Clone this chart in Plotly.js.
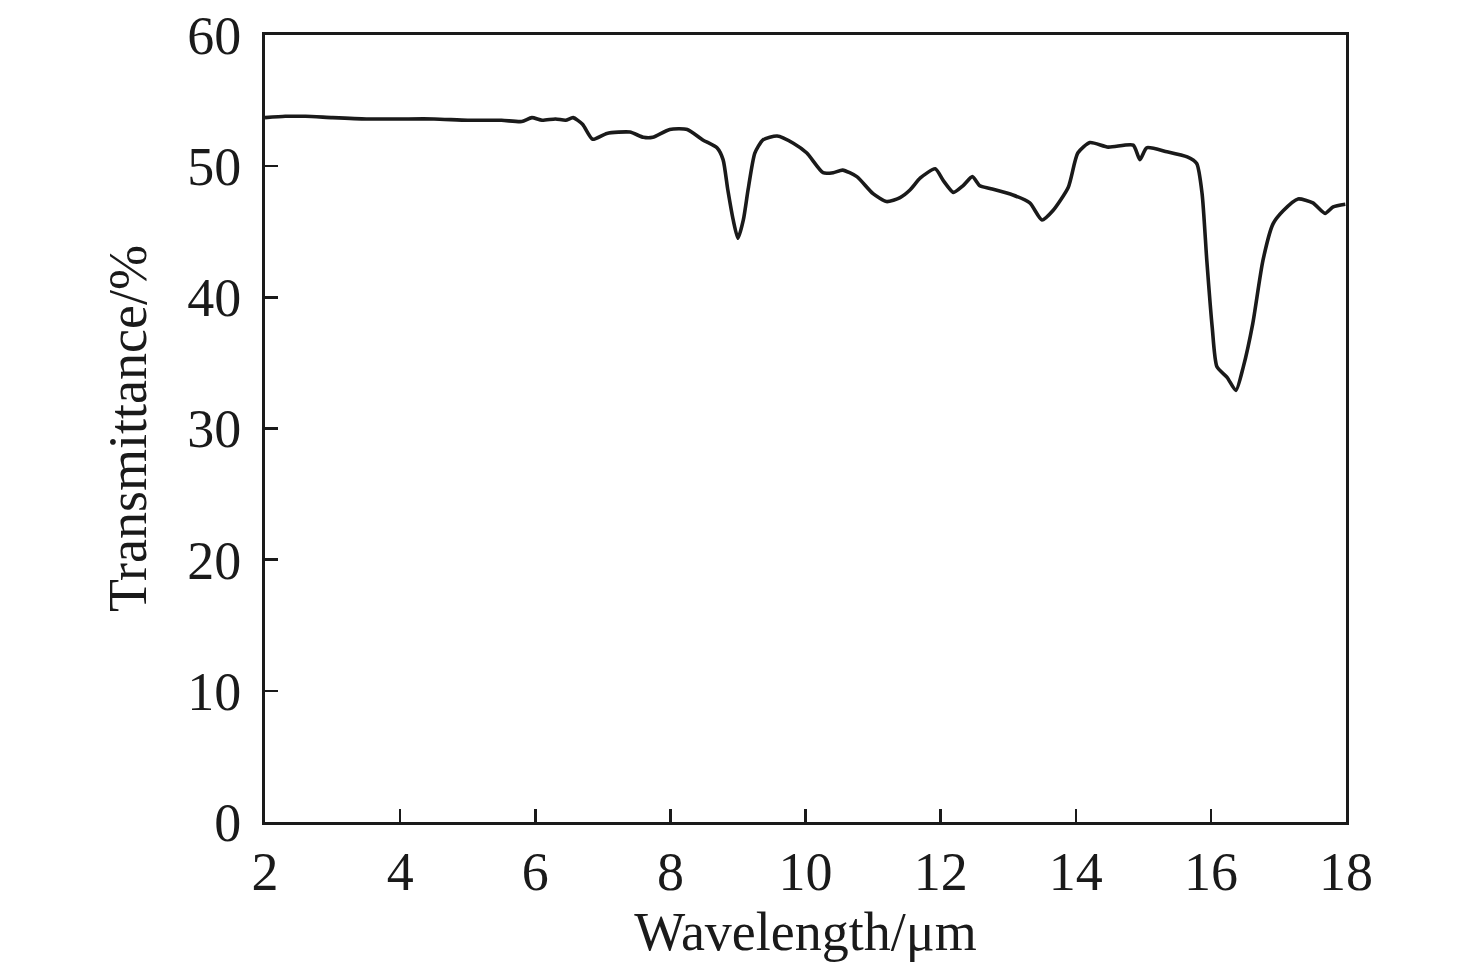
<!DOCTYPE html>
<html>
<head>
<meta charset="utf-8">
<script src="https://cdn.plot.ly/plotly-3.0.1.min.js"></script>
<style>
  body { margin: 0; background: #fff; }
  #chart { width: 1476px; height: 972px; }
</style>
</head>
<body>
<div id="chart"></div>
<script>
// Spectrum
var wavelength = [
    2.0, 2.3, 2.6, 3.0, 3.5, 4.0, 4.5, 5.0, 5.5, 5.8, 5.95, 6.1, 6.3, 6.45, 6.56, 6.7,
    6.85, 7.06, 7.4, 7.6, 7.74, 7.99, 8.25, 8.48, 8.69, 8.78, 8.85, 8.93, 9.0, 9.08,
    9.15, 9.25, 9.37, 9.58, 9.82, 10.02, 10.26, 10.41, 10.55, 10.76, 11.0, 11.2, 11.4,
    11.55, 11.7, 11.92, 12.04, 12.19, 12.33, 12.47, 12.58, 12.73, 13.07, 13.32, 13.5,
    13.66, 13.89, 14.03, 14.21, 14.48, 14.85, 14.95, 15.05, 15.35, 15.65, 15.79, 15.87,
    15.94, 16.02, 16.09, 16.24, 16.37, 16.48, 16.62, 16.77, 16.92, 17.07, 17.29, 17.51,
    17.69, 17.81, 17.99
];
var transmittance = [
    53.7, 53.8, 53.8, 53.7, 53.6, 53.6, 53.6, 53.5, 53.5, 53.4, 53.7, 53.5, 53.6, 53.5, 53.7, 53.2,
    52.05, 52.5, 52.6, 52.2, 52.2, 52.8, 52.8, 52.0, 51.4, 50.5, 48.2, 45.9, 44.5, 45.9,
    48.2, 51.0, 52.0, 52.3, 51.75, 51.0, 49.5, 49.5, 49.7, 49.2, 47.9, 47.3, 47.6,
    48.2, 49.1, 49.8, 48.9, 48.0, 48.5, 49.2, 48.5, 48.3, 47.8, 47.2, 45.9,
    46.6, 48.4, 51.0, 51.8, 51.45, 51.6, 50.5, 51.4, 51.1, 50.7, 50.2, 47.9,
    42.8, 37.7, 34.7, 33.9, 32.9, 34.7, 38.0, 42.8, 45.6, 46.6, 47.5, 47.2,
    46.4, 46.9, 47.1
];
var xTicks = [2, 4, 6, 8, 10, 12, 14, 16, 18];
var yTicks = [0, 10, 20, 30, 40, 50, 60];

var ink = '#1a1a1a';
var serif = 'Liberation Serif, Times New Roman, serif';

var trace = {
    x: wavelength,
    y: transmittance,
    type: 'scatter',
    mode: 'lines',
    line: { color: ink, width: 3.6, shape: 'spline', smoothing: 0.6 },
    hoverinfo: 'x+y'
};

var axisBase = {
    showgrid: false,
    zeroline: false,
    showline: true,
    mirror: true,
    linecolor: ink,
    linewidth: 3,
    ticks: 'inside',
    ticklen: 13,
    tickwidth: 2.5,
    tickcolor: ink,
    tickfont: { family: serif, size: 54, color: ink }
};

var layout = {
    width: 1476,
    height: 972,
    margin: { l: 265, r: 130, t: 35, b: 150 },
    paper_bgcolor: '#fff',
    plot_bgcolor: '#fff',
    showlegend: false,
    xaxis: Object.assign({}, axisBase, {
        range: [2, 18],
        tickvals: xTicks,
        ticktext: xTicks.map(String),
        ticklabelstandoff: 0,
        title: { text: 'Wavelength/μm', font: { family: serif, size: 54, color: ink }, standoff: 0 }
    }),
    yaxis: Object.assign({}, axisBase, {
        range: [0, 60],
        tickvals: yTicks,
        ticktext: yTicks.map(String),
        ticklabelstandoff: 10,
        title: { text: 'Transmittance/%', font: { family: serif, size: 54, color: ink }, standoff: 24 }
    })
};

Plotly.newPlot('chart', [trace], layout, { displayModeBar: false, staticPlot: true });
</script>
</body>
</html>
